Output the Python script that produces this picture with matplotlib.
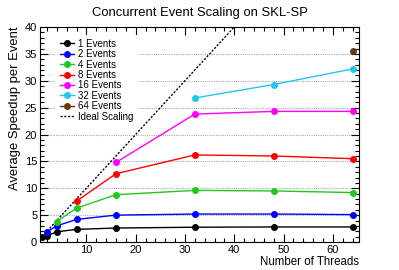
import matplotlib
matplotlib.use("Agg")
import matplotlib.pyplot as plt
from matplotlib.ticker import MultipleLocator

plt.rcParams["font.family"] = ["Liberation Sans", "DejaVu Sans"]

# number of concurrent events -> (threads, average speedup per event)
threads_1 = [1, 2, 4, 8, 16, 32, 48, 64]
speedup_1 = [0.9, 1.15, 1.9, 2.35, 2.6, 2.75, 2.8, 2.8]
threads_2 = [2, 4, 8, 16, 32, 48, 64]
speedup_2 = [1.9, 3.0, 4.2, 5.0, 5.2, 5.2, 5.1]
threads_4 = [4, 8, 16, 32, 48, 64]
speedup_4 = [3.8, 6.3, 8.8, 9.6, 9.5, 9.2]
threads_8 = [8, 16, 32, 48, 64]
speedup_8 = [7.6, 12.7, 16.2, 16.0, 15.5]
threads_16 = [16, 32, 48, 64]
speedup_16 = [14.8, 23.8, 24.3, 24.3]
threads_32 = [32, 48, 64]
speedup_32 = [26.8, 29.3, 32.2]
threads_64 = [64]
speedup_64 = [35.5]
ideal_x = [1, 64]
ideal_y = [1, 64]

series = [
    ("1 Events", threads_1, speedup_1, "black"),
    ("2 Events", threads_2, speedup_2, "#0000ff"),
    ("4 Events", threads_4, speedup_4, "#1fc91f"),
    ("8 Events", threads_8, speedup_8, "#ff0000"),
    ("16 Events", threads_16, speedup_16, "#ff00ff"),
    ("32 Events", threads_32, speedup_32, "#1ec8f0"),
    ("64 Events", threads_64, speedup_64, "#6b3a12"),
]

fig = plt.figure(figsize=(3.99, 2.70), dpi=100)
ax = fig.add_axes([0.1003, 0.1037, 0.7994, 0.7963])

for label, xs, ys, col in series:
    ax.plot(xs, ys, color=col, lw=1.0, marker="o", ms=4, label=label, zorder=3)
ax.plot(ideal_x, ideal_y, color="black", lw=1.0, ls=(0, (1.5, 1.2)),
        label="Ideal Scaling", zorder=2)

ax.set_xlim(0.6, 65.3)
ax.set_ylim(0, 40)
ax.xaxis.set_major_locator(MultipleLocator(10))
ax.xaxis.set_minor_locator(MultipleLocator(2))
ax.yaxis.set_major_locator(MultipleLocator(5))
ax.yaxis.set_minor_locator(MultipleLocator(1))
ax.tick_params(which="both", direction="in", top=True, right=True,
               labelsize=8, width=0.8, pad=2)
ax.tick_params(which="major", length=6)
ax.tick_params(which="minor", length=3)
for s in ax.spines.values():
    s.set_linewidth(0.8)

ax.yaxis.grid(True, color="#aaaaaa", ls=(0, (1, 1)), lw=0.8, zorder=0)
ax.set_axisbelow(True)

ax.set_title("Concurrent Event Scaling on SKL-SP", fontsize=9.4, pad=8)
ax.set_xlabel("Number of Threads", fontsize=8.3, loc="right", labelpad=1)
ax.set_ylabel("Average Speedup per Event", fontsize=9.4, loc="top", labelpad=3)

leg = ax.legend(loc="upper left", bbox_to_anchor=(0.05, 0.963), fontsize=7,
                frameon=True, fancybox=False, edgecolor="none", facecolor="white",
                framealpha=1, handlelength=1.5, handletextpad=0.4,
                labelspacing=0.04, borderpad=0.4, borderaxespad=0)
leg.set_zorder(2.5)

fig.savefig("out.png", dpi=100)
